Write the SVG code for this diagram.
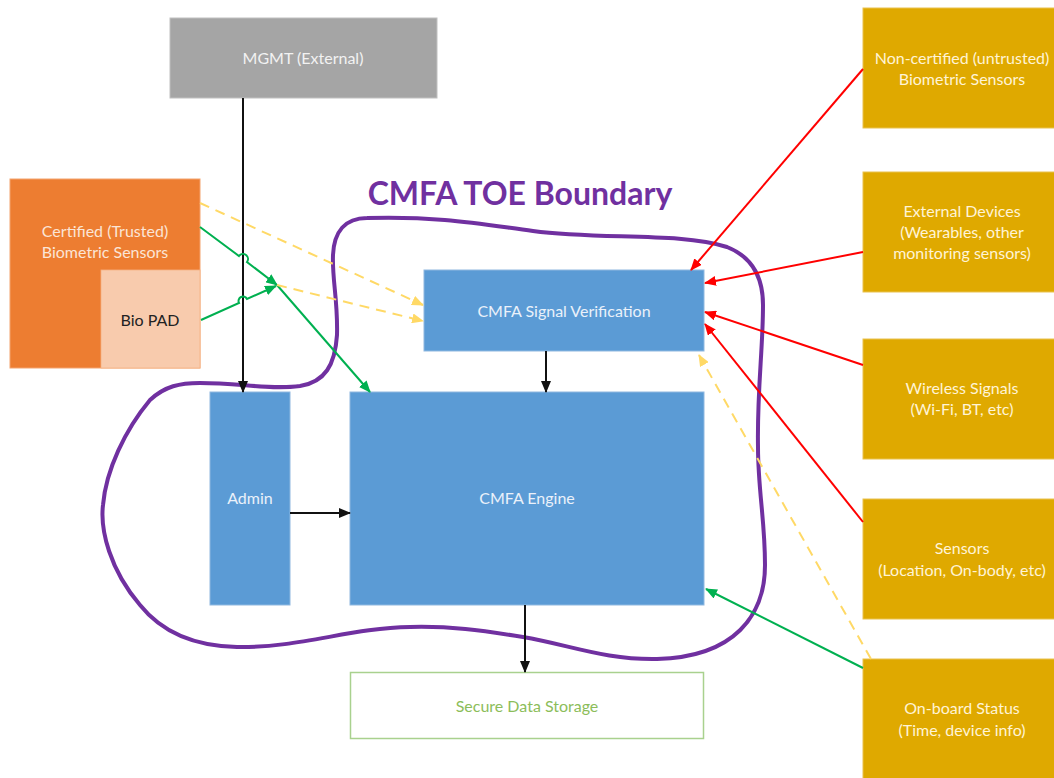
<svg xmlns="http://www.w3.org/2000/svg" width="1054" height="778" viewBox="0 0 1054 778">
<style>
  text { font-family: Lato, "Liberation Sans", sans-serif; font-size: 16px; text-anchor: middle; }
  .blue { fill: #5b9bd5; stroke: #8fb8e0; stroke-width: 1; }
  .gold { fill: #dfa900; stroke: #e9c24f; stroke-width: 1; }
  .tb { fill: #eaf1fa; }
  .tg { fill: #fff4d6; }
  .ln { fill: none; stroke-width: 2; }
  .blk { stroke: #111; }
  .red { stroke: #ff0000; }
  .grn { stroke: #00b050; }
  .yel { stroke: #ffd966; stroke-dasharray: 10 7; }
</style>
<defs>
  <marker id="ab" markerUnits="userSpaceOnUse" markerWidth="12" markerHeight="10" refX="11" refY="5" orient="auto"><path d="M0,0 L12,5 L0,10 Z" fill="#111"/></marker>
  <marker id="ar" markerUnits="userSpaceOnUse" markerWidth="12" markerHeight="10" refX="11" refY="5" orient="auto"><path d="M0,0 L12,5 L0,10 Z" fill="#ff0000"/></marker>
  <marker id="ag" markerUnits="userSpaceOnUse" markerWidth="12" markerHeight="10" refX="11" refY="5" orient="auto"><path d="M0,0 L12,5 L0,10 Z" fill="#00b050"/></marker>
  <marker id="ay" markerUnits="userSpaceOnUse" markerWidth="12" markerHeight="10" refX="11" refY="5" orient="auto"><path d="M0,0 L12,5 L0,10 Z" fill="#ffd966"/></marker>
</defs>

<g id="boundary">
  <path d="M 367 218 C 440 216, 480 224, 533 231 C 600 240, 680 232, 727 247 C 755 258, 763 280, 763 305 C 763 350, 757 390, 758 447 C 758 490, 765 520, 765 565 C 765 615, 735 657, 657 659 C 605 660, 570 645, 523 637 C 480 630, 450 626, 410 627 C 350 628, 300 648, 237 647 C 190 646, 160 630, 140 605 C 110 570, 100 530, 103 505 C 106 470, 125 430, 150 400 C 165 386, 180 383, 200 383 C 240 383, 270 390, 300 386 C 325 382, 335 365, 337 335 C 338 300, 332 280, 333 255 C 334 232, 345 218, 367 218 Z" fill="none" stroke="#7030a0" stroke-width="4"/>
  <text x="520" y="205" style="font-size:32px;font-weight:bold;fill:#7030a0">CMFA TOE Boundary</text>
</g>

<g id="mgmt">
  <rect x="170" y="18" width="267" height="80" fill="#a5a5a5" stroke="#c0c0c0"/>
  <text x="303" y="64" fill="#f2f2f2">MGMT (External)</text>
</g>

<g id="certified">
  <rect x="10" y="179" width="190" height="189" fill="#ed7d31" stroke="#f4a36e"/>
  <text x="105" y="237" fill="#fbe5d6">Certified (Trusted)</text>
  <text x="105" y="258" fill="#fbe5d6">Biometric Sensors</text>
</g>

<g id="biopad">
  <rect x="101" y="270" width="99" height="98" fill="#f8cbad" stroke="#f4b183" stroke-width="0.8"/>
  <text x="150" y="326" fill="#222">Bio PAD</text>
</g>

<g id="signal-verification">
  <rect class="blue" x="424" y="270" width="280" height="81"/>
  <text class="tb" x="564" y="317">CMFA Signal Verification</text>
</g>

<g id="admin">
  <rect class="blue" x="210" y="392" width="80" height="213"/>
  <text class="tb" x="250" y="504">Admin</text>
</g>

<g id="engine">
  <rect class="blue" x="350" y="392" width="354" height="213"/>
  <text class="tb" x="527" y="504">CMFA Engine</text>
</g>

<g id="storage">
  <rect x="350.5" y="672.5" width="353" height="66" fill="#ffffff" stroke="#a9d18e" stroke-width="1.5"/>
  <text x="527" y="712" fill="#8cbd5a">Secure Data Storage</text>
</g>

<g id="noncertified">
  <rect class="gold" x="863" y="8" width="200" height="120"/>
  <text class="tg" x="962" y="64">Non-certified (untrusted)</text>
  <text class="tg" x="962" y="85">Biometric Sensors</text>
</g>

<g id="external-devices">
  <rect class="gold" x="863" y="172" width="200" height="120"/>
  <text class="tg" x="962" y="217">External Devices</text>
  <text class="tg" x="962" y="238">(Wearables, other</text>
  <text class="tg" x="962" y="259">monitoring sensors)</text>
</g>

<g id="wireless">
  <rect class="gold" x="863" y="339" width="200" height="120"/>
  <text class="tg" x="962" y="394">Wireless Signals</text>
  <text class="tg" x="962" y="415">(Wi-Fi, BT, etc)</text>
</g>

<g id="sensors">
  <rect class="gold" x="863" y="499" width="200" height="120"/>
  <text class="tg" x="962" y="554">Sensors</text>
  <text class="tg" x="962" y="576">(Location, On-body, etc)</text>
</g>

<g id="onboard">
  <rect class="gold" x="863" y="659" width="200" height="130"/>
  <text class="tg" x="962" y="714">On-board Status</text>
  <text class="tg" x="962" y="736">(Time, device info)</text>
</g>

<g id="connectors">
  <path class="ln blk" d="M 243 98 L 243 392" marker-end="url(#ab)"/>
  <path class="ln grn" d="M 200 227 L 239 256 A 4 4 0 0 1 247 262 L 277 285" marker-end="url(#ag)"/>
  <path class="ln grn" d="M 201 320 L 239 303 A 4 4 0 0 1 247 299 L 276 286" marker-end="url(#ag)"/>
  <path class="ln grn" d="M 277 285 L 370 392" marker-end="url(#ag)"/>
  <path class="ln yel" d="M 200 203 L 423 305" marker-end="url(#ay)"/>
  <path class="ln yel" d="M 277 285 L 423 321" marker-end="url(#ay)"/>
  <path class="ln blk" d="M 546 351 L 546 392" marker-end="url(#ab)"/>
  <path class="ln blk" d="M 290 513 L 350 513" marker-end="url(#ab)"/>
  <path class="ln blk" d="M 525 605 L 525 672" marker-end="url(#ab)"/>
  <path class="ln red" d="M 863 69 L 691 270" marker-end="url(#ar)"/>
  <path class="ln red" d="M 863 252 L 705 283" marker-end="url(#ar)"/>
  <path class="ln red" d="M 863 365 L 705 312" marker-end="url(#ar)"/>
  <path class="ln red" d="M 863 522 L 705 324" marker-end="url(#ar)"/>
  <path class="ln grn" d="M 863 668 L 706 589" marker-end="url(#ag)"/>
  <path class="ln yel" d="M 871 659 L 699 355" marker-end="url(#ay)"/>
</g>
</svg>
